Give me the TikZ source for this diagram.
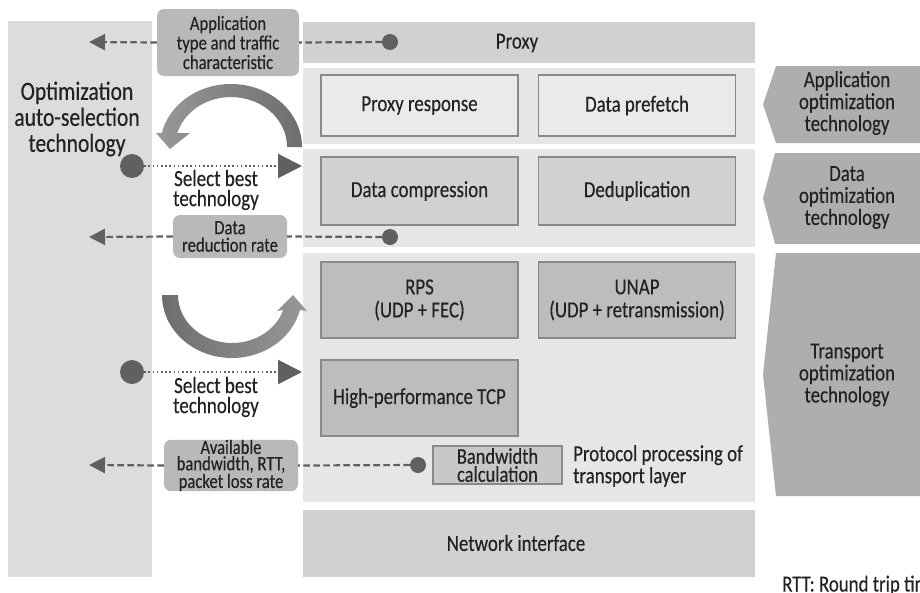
\documentclass[tikz,border=0pt]{standalone}
\usepackage{fontspec}
\setmainfont{Carlito}[FakeStretch=0.82, FakeBold=0.3]
\usetikzlibrary{arrows.meta}

\definecolor{colbg}{HTML}{DCDCDE}
\definecolor{barbg}{HTML}{D1D1D3}
\definecolor{layerbg}{HTML}{E6E6E8}
\definecolor{boxlight}{HTML}{EAEAEC}
\definecolor{boxmid}{HTML}{D1D1D3}
\definecolor{boxdark}{HTML}{BDBDBF}
\definecolor{boxbw}{HTML}{C8C8CA}
\definecolor{tagbg}{HTML}{B9B9BB}
\definecolor{sidebg}{HTML}{AEAEB0}
\definecolor{ink}{HTML}{606062}
\definecolor{txt}{HTML}{222222}
\definecolor{edge}{HTML}{8A8A8C}
\definecolor{arcdark}{HTML}{6E6E70}
\definecolor{arclight}{HTML}{98989A}

\newcommand\fsmain{\fontsize{23}{22}\selectfont}
\newcommand\fstitle{\fontsize{26.3}{26}\selectfont}

\tikzset{
  label txt/.style={text=txt, align=center, inner sep=0pt, font=\fsmain},
  techbox/.style={draw=edge, line width=1.2pt, minimum width=197pt,
    inner sep=0pt, align=center, text=txt, font=\fsmain},
  tagbox/.style={fill=tagbg, rounded corners=7pt, inner sep=0pt,
    align=center, text=txt},
  enddot/.style={circle, fill=ink, minimum size=16pt, inner sep=0pt},
  bigdot/.style={circle, fill=ink, minimum size=24pt, inner sep=0pt},
  feedline/.style={draw=ink, line width=2.2pt, dash pattern=on 6.5pt off 3.5pt},
  feedarrow/.style={feedline, -{Triangle[length=16pt,width=16pt]}},
  pickline/.style={draw=ink, line width=2.2pt, dash pattern=on 1.6pt off 2.6pt,
    -{Triangle[length=24pt,width=24pt]}},
}

\begin{document}
\begin{tikzpicture}[x=1pt, y=-1pt]
\useasboundingbox (0,0) rectangle (920,592);

% left column: auto-selection block
\fill[colbg] (8,21) rectangle (152,577);
\node[label txt, font=\fstitle] (autosel) at (77,119)
  {Optimization\\auto-selection\\technology};

% protocol stack
\fill[barbg] (303,22) rectangle (755,63);
\node[label txt] (proxy) at (517,43) {Proxy};
\fill[layerbg] (303,68) rectangle (755,144);
\fill[layerbg] (303,149) rectangle (755,247);
\fill[layerbg] (303,253) rectangle (755,502);
\fill[barbg] (303,510) rectangle (755,577);
\node[label txt] (netif) at (516,543) {Network interface};

\node[techbox, fill=boxlight, minimum height=61pt] (presp) at (419.5,105.5) {Proxy response};
\node[techbox, fill=boxlight, minimum height=61pt] (prefetch) at (637,105.5) {Data prefetch};
\node[techbox, fill=boxmid, minimum height=68pt] (compress) at (419.5,191) {Data compression};
\node[techbox, fill=boxmid, minimum height=68pt] (dedup) at (637,191) {Deduplication};
\node[techbox, fill=boxdark, minimum height=76pt, font=\fontsize{23}{23}\selectfont] (rps) at (419.5,300) {RPS\\(UDP + FEC)};
\node[techbox, fill=boxdark, minimum height=76pt, font=\fontsize{23}{23}\selectfont] (unap) at (637,300) {UNAP\\(UDP + retransmission)};
\node[techbox, fill=boxdark, minimum height=76pt] (hptcp) at (419.5,398) {High-performance TCP};
\node[techbox, fill=boxbw, minimum width=129pt, minimum height=38pt,
  font=\fontsize{22.5}{18}\selectfont] (bwcalc) at (497.5,465) {Bandwidth\\calculation};
\node[label txt, align=left, anchor=west] (protoproc) at (573,466)
  {Protocol processing of\\transport layer};

% right-hand category labels
\fill[sidebg] (776,66) -- (920,66) -- (920,143) -- (776,143) -- (763,104.5) -- cycle;
\node[label txt] (appopt) at (847,103) {Application\\optimization\\technology};
\fill[sidebg] (775,153) -- (920,153) -- (920,244) -- (775,244) -- (763,198.5) -- cycle;
\node[label txt] (dataopt) at (847,197.5) {Data\\optimization\\technology};
\fill[sidebg] (776,253) -- (920,253) -- (920,496) -- (776,496) -- (763,374.5) -- cycle;
\node[label txt] (transopt) at (847,375) {Transport\\optimization\\technology};

% feedback of measured values
\node[tagbox, minimum width=142pt, minimum height=67pt,
  font=\fontsize{20.3}{19.5}\selectfont] (apptype) at (228,42.5)
  {Application\\type and traffic\\characteristic};
\node[enddot] (d1) at (390,42) {};
\coordinate (a1) at (89,42);
\draw[feedline] (d1) -- (apptype.east);
\draw[feedarrow] (apptype.west) -- (a1);

\node[tagbox, minimum width=114pt, minimum height=43pt,
  font=\fontsize{20.3}{17.5}\selectfont] (redrate) at (230,236.5)
  {Data\\reduction rate};
\node[enddot] (d2) at (390,237) {};
\coordinate (a2) at (89,237);
\draw[feedline] (d2) -- (redrate.east);
\draw[feedarrow] (redrate.west) -- (a2);

\node[tagbox, minimum width=134pt, minimum height=50pt,
  font=\fontsize{20.3}{16.3}\selectfont] (avail) at (231,465.5)
  {Available\\bandwidth, RTT,\\packet loss rate};
\node[enddot] (d3) at (418,465) {};
\coordinate (a3) at (89,465);
\draw[feedline] (d3) -- (avail.east);
\draw[feedarrow] (avail.west) -- (a3);

% selection of the best technology
\node[bigdot] (s1) at (132,166) {};
\coordinate (s1tip) at (302,166);
\draw[pickline] (s1) -- (s1tip);
\node[label txt, font=\fontsize{23.2}{20}\selectfont] (sel1) at (216,190) {Select best\\technology};

\node[bigdot] (s2) at (132,372) {};
\coordinate (s2tip) at (302,372);
\draw[pickline] (s2) -- (s2tip);
\node[label txt, font=\fontsize{23.2}{20}\selectfont] (sel2) at (216,397) {Select best\\technology};

% curved selection arrows
\shade[left color=arclight, right color=arcdark]
  (302,147) arc[start angle=360, end angle=192.8, x radius=71, y radius=63]
  -- (156,133) -- (170,149) -- (190,133) -- (177.3,133)
  arc[start angle=196.3, end angle=360, x radius=56, y radius=50] -- cycle;
\shade[left color=arcdark, right color=arclight]
  (162,295) arc[start angle=180, end angle=13.8, x radius=70, y radius=63]
  -- (307,311) -- (293,295) -- (277,311) -- (283.3,310)
  arc[start angle=18.2, end angle=180, x radius=54, y radius=48] -- cycle;

% footnote
\node[label txt, anchor=base west] (rttnote) at (782,591.5) {RTT: Round trip time};
\end{tikzpicture}
\end{document}
